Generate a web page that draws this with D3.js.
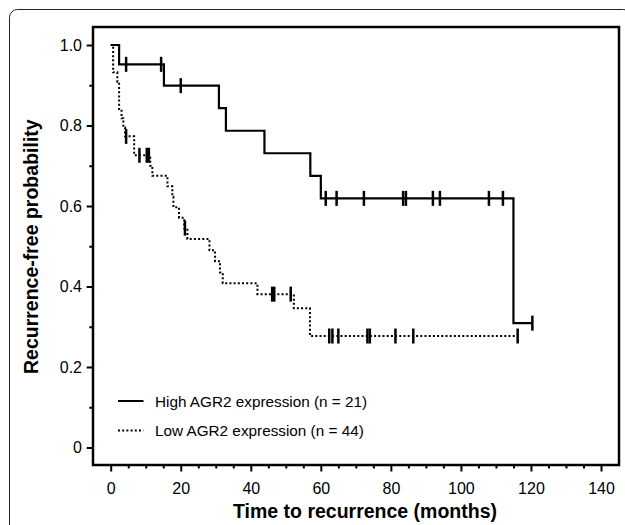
<!DOCTYPE html>
<html>
<head>
<meta charset="utf-8">
<script src="https://cdn.jsdelivr.net/npm/d3@7"></script>
<style>
  body { margin: 0; background: #fff; }
  svg { display: block; font-family: "Liberation Sans", Arial, sans-serif; }
</style>
</head>
<body>
<svg id="km" width="625" height="525"></svg>
<script>
// High AGR2 expression (n = 21): step times (months) and survival after each step
const highTimes = [0, 2.4, 15.2, 30.9, 32.9, 43.9, 57.0, 60.0, 115.0];
const highSurv  = [1, 0.952, 0.899, 0.843, 0.787, 0.731, 0.675, 0.619, 0.309];
const highEnd = 120.4;
const highCensor = [4.4, 14.4, 20.0, 61.4, 64.5, 72.3, 83.5, 84.3, 92.0, 94.0, 108.0, 112.0, 120.4];

// Low AGR2 expression (n = 44)
const lowTimes = [0, 0.7, 1.9, 2.4, 3.1, 3.6, 4.1, 6.7, 11.3, 11.9, 16.2, 17.6, 17.9, 19.5, 21.0, 21.9, 28.2, 29.8, 31.2, 32.0, 41.9, 52.3, 56.9];
const lowSurv  = [1, 0.932, 0.909, 0.841, 0.818, 0.795, 0.773, 0.726, 0.700, 0.675, 0.649, 0.623, 0.597, 0.571, 0.545, 0.518, 0.490, 0.463, 0.435, 0.408, 0.381, 0.346, 0.277];
const lowEnd = 116.2;
const lowCensor = [4.4, 8.2, 10.3, 10.9, 21.2, 46.1, 46.7, 51.4, 62.4, 63.3, 65.0, 73.3, 74.0, 81.3, 86.4, 116.2];

const xTicks = [0, 20, 40, 60, 80, 100, 120, 140];
const xMinor = d3.range(5, 140, 5).filter(d => d % 20 !== 0);
const yTicks = [0, 0.2, 0.4, 0.6, 0.8, 1.0];
const yMinor = [0.1, 0.3, 0.5, 0.7, 0.9];
const legendLabels = ["High AGR2 expression (n = 21)", "Low AGR2 expression (n = 44)"];

const svg = d3.select("#km");
const box = { left: 93, top: 27, right: 619, bottom: 465 };

const x = d3.scaleLinear().domain([0, 140]).range([110.7, 601]);
const y = d3.scaleLinear().domain([0, 1]).range([447.5, 45]);

// outer frame
svg.append("rect")
    .attr("x", 9.5).attr("y", 9.5)
    .attr("width", 622).attr("height", 540)
    .attr("rx", 8)
    .attr("fill", "none").attr("stroke", "#222").attr("stroke-width", 1);

// axes
function styleAxis(g) {
    g.select(".domain").remove();
    g.selectAll(".tick line").attr("stroke", "#000").attr("stroke-width", 2);
    g.selectAll(".tick text").attr("fill", "#000").style("font-size", "16px")
        .style("font-family", '"Liberation Sans", Arial, sans-serif');
}

svg.append("g")
    .attr("transform", `translate(0,${box.bottom})`)
    .call(d3.axisBottom(x).tickValues(xTicks).tickSize(6.5).tickPadding(11.1).tickFormat(d3.format("d")))
    .call(styleAxis);

svg.append("g")
    .attr("transform", `translate(0,${box.bottom})`)
    .call(d3.axisBottom(x).tickValues(xMinor).tickSize(3.5).tickFormat(""))
    .call(styleAxis);

svg.append("g")
    .attr("transform", `translate(${box.left},0)`)
    .call(d3.axisLeft(y).tickValues(yTicks).tickSize(6.3).tickPadding(4.7)
        .tickFormat(d => d === 0 ? "0" : d3.format(".1f")(d)))
    .call(styleAxis);

svg.append("g")
    .attr("transform", `translate(${box.left},0)`)
    .call(d3.axisLeft(y).tickValues(yMinor).tickSize(3.7).tickFormat(""))
    .call(styleAxis);

// plot box
svg.append("rect")
    .attr("x", box.left).attr("y", box.top)
    .attr("width", box.right - box.left).attr("height", box.bottom - box.top)
    .attr("fill", "none").attr("stroke", "#000").attr("stroke-width", 2.5);

// survival curves
const line = d3.line().x(d => x(d[0])).y(d => y(d[1])).curve(d3.curveStepAfter);

function drawCurve(times, surv, end, censor, dash, width) {
    const pts = times.map((t, i) => [t, surv[i]]);
    pts.push([end, surv[surv.length - 1]]);
    svg.append("path")
        .datum(pts)
        .attr("d", line)
        .attr("fill", "none")
        .attr("stroke", "#000")
        .attr("stroke-width", width)
        .attr("stroke-dasharray", dash);

    svg.append("g").selectAll("line")
        .data(censor)
        .enter()
        .append("line")
        .attr("x1", d => x(d)).attr("x2", d => x(d))
        .attr("y1", d => y(surv[d3.bisectRight(times, d) - 1]) - 7.5)
        .attr("y2", d => y(surv[d3.bisectRight(times, d) - 1]) + 7.5)
        .attr("stroke", "#000")
        .attr("stroke-width", 2.5);
}

drawCurve(lowTimes, lowSurv, lowEnd, lowCensor, "2,2.2", 2);
drawCurve(highTimes, highSurv, highEnd, highCensor, null, 2.2);

// legend
const legendRows = [
    { label: legendLabels[0], dash: null, y: 401 },
    { label: legendLabels[1], dash: "2,2.2", y: 430.5 }
];
legendRows.forEach(r => {
    svg.append("line")
        .attr("x1", 118).attr("x2", 143.5)
        .attr("y1", r.y).attr("y2", r.y)
        .attr("stroke", "#000").attr("stroke-width", 2)
        .attr("stroke-dasharray", r.dash);
    svg.append("text")
        .attr("x", 155).attr("y", r.y + 5.5)
        .style("font-size", "15.3px")
        .text(r.label);
});

// axis titles
svg.append("text")
    .attr("x", 365).attr("y", 518)
    .attr("text-anchor", "middle")
    .style("font-size", "19.5px").style("font-weight", "bold")
    .text("Time to recurrence (months)");

svg.append("text")
    .attr("transform", "translate(38,246.7) rotate(-90)")
    .attr("text-anchor", "middle")
    .style("font-size", "19.5px").style("font-weight", "bold")
    .text("Recurrence-free probability");
</script>
</body>
</html>
